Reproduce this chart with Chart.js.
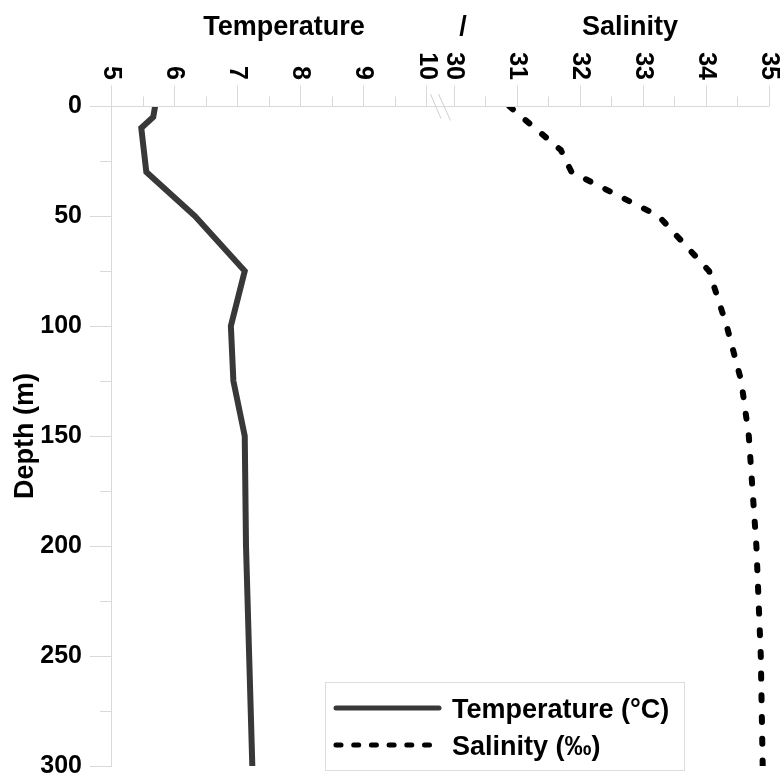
<!DOCTYPE html>
<html>
<head>
<meta charset="utf-8">
<script src="https://cdn.jsdelivr.net/npm/chart.js@4.4.1/dist/chart.umd.min.js"></script>
<style>
  html, body { margin: 0; padding: 0; background: #fff; }
  #wrap { width: 783px; height: 781px; position: relative; }
</style>
</head>
<body>
<div id="wrap"><canvas id="profile"></canvas></div>
<script>
// depth profile
const depths = [0, 5, 10, 20, 30, 50, 75, 100, 125, 150, 200, 250, 300];
const temperature = [5.70, 5.67, 5.48, 5.52, 5.56, 6.33, 7.12, 6.90, 6.94, 7.12, 7.14, 7.19, 7.24];
const salinity = [30.88, 31.08, 31.29, 31.70, 31.87, 33.25, 34.05, 34.33, 34.56, 34.68, 34.80, 34.87, 34.90];

const tempTicks = [5, 6, 7, 8, 9, 10];
const salTicks = [30, 31, 32, 33, 34, 35];
const depthTicks = [0, 50, 100, 150, 200, 250, 300];

// gap (in axis units) between the temperature and salinity parts of the top axis
const BREAK = 0.43;

const FONT = '"Liberation Sans", Arial, sans-serif';
const GRID = "#d9d9d9";

// top axis, break marks, minor ticks and legend drawn by hand
const decor = {
  id: "decor",
  afterDraw(chart) {
    const { ctx, chartArea: a, scales } = chart;
    const xT = scales.xT, xS = scales.xS, y = scales.y;
    const top = Math.round(a.top) + 0.5;

    ctx.save();
    ctx.strokeStyle = GRID;
    ctx.lineWidth = 1;

    // axis line
    ctx.beginPath();
    ctx.moveTo(a.left, top);
    ctx.lineTo(a.right, top);
    ctx.stroke();

    const tick = (px, len) => {
      const x = Math.round(px) + 0.5;
      ctx.beginPath();
      ctx.moveTo(x, top);
      ctx.lineTo(x, top - len);
      ctx.stroke();
    };
    tempTicks.forEach((v) => tick(xT.getPixelForValue(v), 21));
    salTicks.forEach((v) => tick(xS.getPixelForValue(v), 21));
    tempTicks.slice(0, -1).forEach((v) => tick(xT.getPixelForValue(v + 0.5), 10));
    salTicks.slice(0, -1).forEach((v) => tick(xS.getPixelForValue(v + 0.5), 10));

    // minor depth ticks
    depthTicks.slice(0, -1).forEach((d) => {
      const py = Math.round(y.getPixelForValue(d + 25)) + 0.5;
      ctx.beginPath();
      ctx.moveTo(a.left - 11, py);
      ctx.lineTo(a.left, py);
      ctx.stroke();
    });

    // break marks
    const bx = (xT.getPixelForValue(10) + xS.getPixelForValue(30)) / 2;
    ctx.strokeStyle = "#cfcfcf";
    ctx.beginPath();
    ctx.moveTo(bx - 9.5, a.top - 12);
    ctx.lineTo(bx + 1, a.top + 12.5);
    ctx.moveTo(bx - 1.5, a.top - 12);
    ctx.lineTo(bx + 10.5, a.top + 14.5);
    ctx.stroke();

    // rotated tick labels
    ctx.fillStyle = "#000";
    ctx.font = "bold 25px " + FONT;
    const label = (px, text) => {
      ctx.save();
      ctx.translate(px, a.top - 26);
      ctx.rotate(Math.PI / 2);
      ctx.textAlign = "right";
      ctx.textBaseline = "middle";
      ctx.fillText(text, 0, 0);
      ctx.restore();
    };
    tempTicks.forEach((v) => label(xT.getPixelForValue(v), String(v)));
    salTicks.forEach((v) => label(xS.getPixelForValue(v), String(v)));

    // axis titles
    ctx.font = "bold 27px " + FONT;
    ctx.textAlign = "center";
    ctx.textBaseline = "alphabetic";
    ctx.fillText("Temperature", 284, 35);
    ctx.fillText("/", 463, 35);
    ctx.fillText("Salinity", 630, 35);

    // legend
    ctx.strokeStyle = "#dddddd";
    ctx.strokeRect(325.5, 682.5, 359, 88);

    ctx.lineCap = "round";
    ctx.lineWidth = 5;
    ctx.strokeStyle = "#383838";
    ctx.beginPath();
    ctx.moveTo(336, 708);
    ctx.lineTo(439, 708);
    ctx.stroke();

    ctx.strokeStyle = "#000";
    ctx.setLineDash([5, 12.7]);
    ctx.beginPath();
    ctx.moveTo(336, 745);
    ctx.lineTo(430, 745);
    ctx.stroke();
    ctx.setLineDash([]);

    ctx.textAlign = "left";
    ctx.fillText("Temperature (°C)", 452, 718);
    ctx.fillText("Salinity (‰)", 452, 755);
    ctx.restore();
  },
};

new Chart(document.getElementById("profile"), {
  type: "scatter",
  data: {
    datasets: [
      {
        label: "Temperature (°C)",
        data: depths.map((d, i) => ({ x: temperature[i], y: d })),
        xAxisID: "xT",
        yAxisID: "y",
        showLine: true,
        borderColor: "#383838",
        borderWidth: 6,
        pointRadius: 0,
        fill: false,
      },
      {
        label: "Salinity (‰)",
        data: depths.map((d, i) => ({ x: salinity[i], y: d })),
        xAxisID: "xS",
        yAxisID: "y",
        showLine: true,
        borderColor: "#000",
        borderWidth: 6,
        borderDash: [5, 16.7],
        borderCapStyle: "round",
        pointRadius: 0,
        fill: false,
      },
    ],
  },
  options: {
    responsive: true,
    maintainAspectRatio: false,
    animation: false,
    events: [],
    layout: { padding: { top: 106, right: 14, bottom: 15, left: 0 } },
    plugins: {
      legend: { display: false },
      tooltip: { enabled: false },
    },
    scales: {
      xT: {
        type: "linear",
        position: "top",
        display: false,
        min: 5,
        max: 10 + BREAK + 5,
      },
      xS: {
        type: "linear",
        position: "top",
        display: false,
        min: 30 - 5 - BREAK,
        max: 35,
      },
      y: {
        type: "linear",
        position: "left",
        reverse: true,
        min: 0,
        max: 300,
        afterFit: (scale) => {
          scale.width = 111;
          scale.paddingTop = 0;
          scale.paddingBottom = 0;
        },
        afterBuildTicks: (scale) => {
          scale.ticks = depthTicks.map((v) => ({ value: v }));
        },
        grid: {
          drawOnChartArea: false,
          tickLength: 21,
          color: GRID,
        },
        border: { color: GRID },
        ticks: {
          padding: 8,
          color: "#000",
          font: { family: FONT, size: 25, weight: "bold" },
        },
        title: {
          display: true,
          text: "Depth (m)",
          color: "#000",
          font: { family: FONT, size: 27, weight: "bold" },
          padding: { top: 9, bottom: 0 },
        },
      },
    },
  },
  plugins: [decor],
});
</script>
</body>
</html>
